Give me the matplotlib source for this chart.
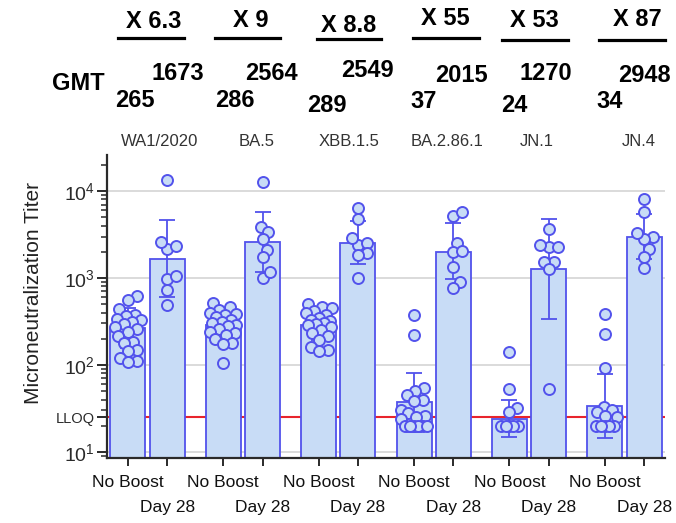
import numpy as np
import matplotlib
matplotlib.use("Agg")
import matplotlib.pyplot as plt
from matplotlib.lines import Line2D

plt.rcParams['font.family'] = ['Liberation Sans', 'DejaVu Sans']
plt.rcParams['mathtext.fontset'] = 'custom'
plt.rcParams['mathtext.rm'] = 'Liberation Sans'
plt.rcParams['mathtext.it'] = 'Liberation Sans'
plt.rcParams['mathtext.bf'] = 'Liberation Sans:bold'

# ---------------- data ----------------
variants = ["WA1/2020", "BA.5", "XBB.1.5", "BA.2.86.1", "JN.1", "JN.4"]
gmt_noboost = [265, 286, 289, 37, 24, 34]
gmt_day28 = [1673, 2564, 2549, 2015, 1270, 2948]
fold_change = ["6.3", "9", "8.8", "55", "53", "87"]
err_noboost_hi = [448, 440, 433, 80, 39, 78]
err_noboost_lo = [157, 186, 193, 17.1, 15, 14.6]
err_day28_hi = [4690, 5750, 4570, 4290, 4780, 5460]
err_day28_lo = [604, 1160, 1440, 986, 339, 1640]
lloq = 25

pts_noboost = [
    [615, 560, 435, 380, 370, 340, 325, 310, 295, 270, 260, 240, 215, 185, 180, 150, 145, 120, 112, 108],
    [515, 460, 430, 400, 385, 375, 360, 330, 310, 300, 290, 280, 260, 240, 230, 220, 200, 180, 175, 104],
    [500, 470, 455, 420, 400, 380, 350, 330, 320, 300, 295, 285, 270, 250, 230, 215, 195, 160, 150, 145],
    [380, 220, 55, 50, 45, 40, 38, 30, 28, 26, 25, 24, 20, 20, 20, 20, 20, 20],
    [140, 53, 32, 29, 20, 20, 20, 20, 20],
    [390, 225, 92, 33, 30, 29, 26, 25, 20, 20, 20, 20, 20],
]
pts_day28 = [
    [13400, 2140, 2580, 2360, 986, 1050, 736, 492],
    [12700, 3820, 3370, 2820, 2100, 1730, 1010, 1160],
    [6410, 4820, 2390, 2850, 2560, 1930, 1845, 988],
    [5220, 5700, 2510, 2013, 2050, 1350, 904, 770],
    [3690, 2260, 2400, 2260, 1540, 1540, 1256, 53],
    [8000, 5700, 2950, 2830, 3280, 2140, 1760, 1290],
]
xlabels = ["No Boost", "Day 28"]

# ---------------- style ----------------
BLUE = '#5252EC'
FILL = '#C8DCF6'
DARK = '#2a2a2a'
GROUP_STEP = 2.43
PX_PER_X = 39.3
PX_PER_DEC = 86.2
MARKER_PX = 11.0

fig = plt.figure(figsize=(6.76, 5.23), dpi=100)
W, H = 676, 523
ax = fig.add_axes([107 / W, 1 - 458 / H, (665 - 107) / W, (458 - 155) / H])
ax.set_yscale('log')
ax.set_ylim(8.5, 26000)
x_nb = np.arange(len(variants)) * GROUP_STEP
x_d28 = x_nb + 1.0
ax.set_xlim(-0.53, x_nb[-1] + 1.53)


def swarm(vals, halfwidth_px=13.5, mind=0.8 * MARKER_PX):
    ys = np.log10(np.asarray(vals, float)) * PX_PER_DEC
    order = np.argsort(ys, kind='stable')
    placed = []
    offs = np.zeros(len(vals))
    step = 1.0
    cands = [0.0]
    k = 1
    while k * step <= halfwidth_px:
        cands += [k * step, -k * step]
        k += 1
    for i in order:
        best, bestscore = 0.0, -1
        chosen = None
        for c in cands:
            if not placed:
                chosen = c
                break
            dmin = min(np.hypot(c - px, ys[i] - py) for px, py in placed)
            if dmin >= mind:
                chosen = c
                break
            if dmin > bestscore:
                bestscore, best = dmin, c
        if chosen is None:
            chosen = best
        offs[i] = chosen
        placed.append((chosen, ys[i]))
    return offs / PX_PER_X


# grid lines & LLOQ
for v in [10, 100, 1000, 10000]:
    ax.axhline(v, color='#d4d4d4', lw=1.2, zorder=0.5)
ax.axhline(lloq, color='#E8242C', lw=1.5, zorder=1)

# bars
bottom = 1.0
ax.bar(x_nb, np.array(gmt_noboost) - bottom, bottom=bottom, width=0.89,
       color=FILL, edgecolor=BLUE, linewidth=1.3, zorder=2)
ax.bar(x_d28, np.array(gmt_day28) - bottom, bottom=bottom, width=0.89,
       color=FILL, edgecolor=BLUE, linewidth=1.3, zorder=2)

# error bars
for xs, g, hi, lo in [(x_nb, gmt_noboost, err_noboost_hi, err_noboost_lo),
                      (x_d28, gmt_day28, err_day28_hi, err_day28_lo)]:
    g = np.array(g, float)
    yerr = np.vstack([g - np.array(lo), np.array(hi) - g])
    ax.errorbar(xs, g, yerr=yerr, fmt='none', ecolor=BLUE, elinewidth=1.3,
                capsize=5.5, capthick=1.3, zorder=3)

# points
for i in range(len(variants)):
    for xc, vals in [(x_nb[i], pts_noboost[i]), (x_d28[i], pts_day28[i])]:
        offs = swarm(vals)
        ax.scatter(xc + offs, vals, s=(MARKER_PX * 0.72) ** 2, facecolor=FILL,
                   edgecolor=BLUE, linewidth=1.4, zorder=4)

# axes styling
for s in ['top', 'right']:
    ax.spines[s].set_visible(False)
for s in ['left', 'bottom']:
    ax.spines[s].set_color(DARK)
    ax.spines[s].set_linewidth(1.6)

ax.set_yticks([10, lloq, 100, 1000, 10000])
ax.set_yticklabels([r'$\mathregular{10^{1}}$', 'LLOQ', r'$\mathregular{10^{2}}$',
                    r'$\mathregular{10^{3}}$', r'$\mathregular{10^{4}}$'])
for lab in ax.get_yticklabels():
    lab.set_fontsize(14 if lab.get_text() != 'LLOQ' else 10.5)
    lab.set_color(DARK)
ax.yaxis.set_minor_locator(matplotlib.ticker.LogLocator(base=10, subs=np.arange(2, 10), numticks=20))
ax.yaxis.set_minor_formatter(matplotlib.ticker.NullFormatter())
ax.tick_params(axis='y', which='major', direction='out', length=7, width=1.4, color=DARK, pad=2)
ax.tick_params(axis='y', which='minor', direction='out', length=4, width=1.1, color=DARK)

xt = np.empty(2 * len(variants))
xt[0::2] = x_nb
xt[1::2] = x_d28
ax.set_xticks(xt)
ax.set_xticklabels([])
ax.tick_params(axis='x', which='major', direction='out', length=6, width=1.4, color=DARK)
for i in range(len(variants)):
    ax.text(x_nb[i], -0.095, xlabels[0], transform=ax.get_xaxis_transform(),
            ha='center', va='baseline', fontsize=12.5, color='#111111')
    ax.text(x_d28[i], -0.178, xlabels[1], transform=ax.get_xaxis_transform(),
            ha='center', va='baseline', fontsize=12.5, color='#111111')

fig.text(33.5 / W, 1 - 293.5 / H, 'Microneutralization Titer', rotation=90,
         ha='center', va='center', fontsize=15, color='#222222')

# ---------------- header annotations ----------------
def ftext(x, y, s, **kw):
    fig.text(x / W, 1 - y / H, s, **kw)

fold_pos = [(154, 28), (250.5, 27), (348.5, 31.5), (445, 25), (534.5, 26.7), (637.5, 26)]
underline_pos = [(118, 184, 38), (215, 280, 38), (317, 381, 39), (413, 479, 38), (502, 568, 40), (599, 665, 40)]
d28_pos = [(177.5, 80), (271.5, 80), (367.5, 76.7), (461, 81.7), (546, 80), (644.5, 81.7)]
nb_pos = [(135, 106.7), (235, 106.7), (327, 111.7), (423.5, 108.3), (514, 111.7), (610, 108.3)]
var_pos = [159.5, 257, 349, 447.5, 536.5, 638.5]

for i in range(len(variants)):
    ftext(*fold_pos[i], 'X ' + fold_change[i], ha='center', va='baseline',
          fontsize=17, fontweight='bold', color='black')
    x0, x1, yy = underline_pos[i]
    fig.add_artist(Line2D([x0 / W, x1 / W], [1 - yy / H, 1 - yy / H], color='black',
                          lw=2.3, transform=fig.transFigure))
    ftext(*d28_pos[i], str(gmt_day28[i]), ha='center', va='baseline',
          fontsize=17, fontweight='bold', color='black')
    ftext(*nb_pos[i], str(gmt_noboost[i]), ha='center', va='baseline',
          fontsize=17, fontweight='bold', color='black')
    ftext(var_pos[i], 146.5, variants[i], ha='center', va='baseline',
          fontsize=12, color='#333333')

ftext(78.5, 90, 'GMT', ha='center', va='baseline', fontsize=17, fontweight='bold', color='black')

fig.savefig('out.png', dpi=100)
